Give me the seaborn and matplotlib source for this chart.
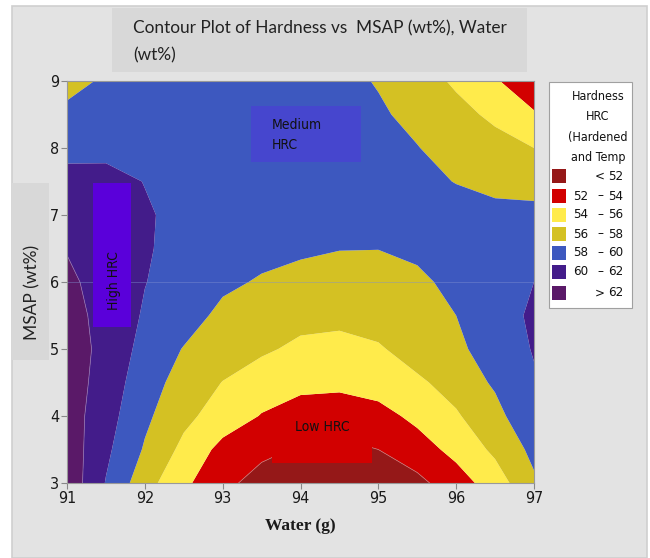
import numpy as np
import matplotlib
matplotlib.use("Agg")
import matplotlib.pyplot as plt
from matplotlib.patches import Rectangle
from matplotlib import font_manager
import seaborn as sns

# ---- data ----
water = [91.0, 91.5, 92.0, 92.5, 93.0, 93.5, 94.0, 94.5, 95.0, 95.5, 96.0, 96.5, 97.0]
msap = [3.0, 3.5, 4.0, 4.5, 5.0, 5.5, 6.0, 6.5, 7.0, 7.5, 8.0, 8.5, 9.0]

hrc_msap_30 = [63.4, 59.9, 56.8, 54.4, 52.55, 51.2, 50.5, 50.4, 50.8, 51.5, 53.07, 55.0, 57.7]
hrc_msap_35 = [63.2, 60.4, 57.8, 55.5, 53.4, 52.5, 51.8, 51.6, 52.0, 53.1, 54.6, 56.4, 58.5]
hrc_msap_40 = [63.0, 60.8, 58.4, 56.5, 55.1, 53.9, 53.0, 52.8, 53.3, 54.5, 55.8, 57.3, 59.8]
hrc_msap_45 = [63.1, 61.1, 58.9, 57.2, 55.95, 55.0, 54.6, 54.5, 54.9, 55.7, 56.7, 58.3, 59.8]
hrc_msap_50 = [63.2, 61.3, 59.4, 57.9, 57.0, 56.3, 55.6, 55.4, 55.8, 56.8, 57.6, 58.9, 60.12]
hrc_msap_55 = [62.8, 61.3, 59.8, 58.9, 57.5, 56.9, 56.6, 56.5, 56.8, 57.3, 58.0, 59.2, 60.3]
hrc_msap_60 = [62.4, 61.2, 60.05, 59.2, 58.4, 57.8, 57.4, 57.3, 57.5, 57.7, 58.4, 59.2, 60.0]
hrc_msap_65 = [61.9, 60.9, 60.15, 59.5, 59.0, 58.6, 58.3, 58.05, 58.02, 58.3, 58.8, 59.3, 59.6]
hrc_msap_70 = [61.3, 60.9, 60.2, 59.5, 59.2, 59.0, 58.9, 58.8, 58.75, 58.7, 58.6, 58.5, 58.5]
hrc_msap_75 = [60.8, 60.6, 59.95, 59.5, 59.3, 59.2, 59.1, 59.0, 58.8, 58.4, 57.95, 57.5, 57.3]
hrc_msap_80 = [59.3, 59.5, 59.5, 59.4, 59.3, 59.2, 59.0, 58.7, 58.35, 58.05, 57.4, 56.7, 56.0]
hrc_msap_85 = [58.5, 59.2, 59.4, 59.4, 59.3, 59.1, 58.8, 58.5, 58.2, 57.6, 56.6, 55.6, 54.2]
hrc_msap_90 = [57.3, 58.3, 58.8, 59.0, 59.0, 58.9, 58.6, 58.4, 57.9, 56.9, 55.7, 54.2, 52.6]

level_edges = [52, 54, 56, 58, 60, 62]
legend_low = ["", "52", "54", "56", "58", "60", ""]
legend_sign = ["<", "\u2013", "\u2013", "\u2013", "\u2013", "\u2013", ">"]
legend_high = ["52", "54", "56", "58", "60", "62", "62"]
band_colors = ["#951818", "#D20000", "#FFEB4B", "#D4C123", "#3D58BF", "#431C8A", "#5A1968"]

x_ticks = [91, 92, 93, 94, 95, 96, 97]
y_ticks = [3, 4, 5, 6, 7, 8, 9]

# ---- figure ----
sns.set_theme(style="white")
plt.rcParams["font.family"] = ["Open Sans", "DejaVu Sans"]

# narrow font: try a condensed face if one is installed
narrow_fp = None
for fam in ["Liberation Sans Narrow", "DejaVu Sans"]:
    try:
        fp = font_manager.FontProperties(family=fam, stretch="condensed")
        path = font_manager.findfont(fp, fallback_to_default=False)
        if "ondensed" in path or "arrow" in path:
            narrow_fp = path
            break
    except Exception:
        pass


def nfont(size, weight="normal"):
    if narrow_fp:
        return font_manager.FontProperties(fname=narrow_fp, size=size, weight=weight)
    return font_manager.FontProperties(family="Liberation Sans", size=size * 0.95, weight=weight)


W, H = 650, 558
fig = plt.figure(figsize=(W / 100, H / 100), dpi=100)
fig.patch.set_facecolor("white")


def fx(px):
    return px / W


def fy(py):
    return 1 - py / H


# outer gray panel
fig.add_artist(Rectangle((fx(12), fy(558)), fx(647) - fx(12), fy(6) - fy(558),
                         transform=fig.transFigure, facecolor="#E3E3E3",
                         edgecolor="#CFCFCF", lw=1.2, zorder=0))
# title box
fig.add_artist(Rectangle((fx(112), fy(72)), fx(527) - fx(112), fy(8) - fy(72),
                         transform=fig.transFigure, facecolor="#D8D8D8",
                         edgecolor="none", zorder=1))
fig.text(fx(133), fy(28), "Contour Plot of Hardness vs  MSAP (wt%), Water",
         ha="left", va="center", fontsize=12.4, color="#222222",
         family=["Lato", "DejaVu Sans"], zorder=2)
fig.text(fx(133), fy(55), "(wt%)", ha="left", va="center", fontsize=12.4,
         color="#222222", family=["Lato", "DejaVu Sans"], zorder=2)

# y label box
fig.add_artist(Rectangle((fx(12), fy(360)), fx(49) - fx(12), fy(183) - fy(360),
                         transform=fig.transFigure, facecolor="#D8D8D8",
                         edgecolor="none", zorder=1))
fig.text(fx(32), fy(292), "MSAP (wt%)", rotation=90, ha="center", va="center",
         fontsize=12.5, color="#222222", family=["Lato", "DejaVu Sans"], zorder=2)

# axes
ax = fig.add_axes([fx(67), fy(483), fx(534) - fx(67), fy(81) - fy(483)])
Z = np.array([hrc_msap_30, hrc_msap_35, hrc_msap_40, hrc_msap_45, hrc_msap_50,
              hrc_msap_55, hrc_msap_60, hrc_msap_65, hrc_msap_70, hrc_msap_75,
              hrc_msap_80, hrc_msap_85, hrc_msap_90])
levels = [min(Z.min(), level_edges[0]) - 5] + level_edges + [max(Z.max(), level_edges[-1]) + 5]
ax.contourf(water, msap, Z, levels=levels, colors=band_colors, antialiased=True)
ax.contour(water, msap, Z, levels=[52, 62], colors=["#C87878", "#9070B0"], linewidths=0.5)
ax.axhline(6, color="#8090d0", lw=0.6, alpha=0.5)

ax.set_xlim(91, 97)
ax.set_ylim(3, 9)
ax.set_xticks(x_ticks)
ax.set_yticks(y_ticks)
ax.set_xticklabels([str(t) for t in x_ticks], fontproperties=nfont(11.5), color="#1a1a1a")
ax.set_yticklabels([str(t) for t in y_ticks], fontproperties=nfont(11.5), color="#1a1a1a")
ax.tick_params(axis="both", direction="out", length=4, width=0.8, color="#888888", pad=1.5,
               bottom=True, left=True)
for s in ax.spines.values():
    s.set_color("#999999")
    s.set_linewidth(0.8)
ax.set_xlabel("Water (g)", family=["Liberation Serif", "DejaVu Serif"], fontweight="bold",
              fontsize=12.5, color="#1a1a1a", labelpad=9)
ax.set_ylabel("")

# annotation boxes
ax.add_patch(Rectangle((93.364, 7.79), 94.778 - 93.364, 8.627 - 7.79,
                       facecolor="#4646CE", edgecolor="none", zorder=5))
ax.text(93.63, 8.34, "Medium", ha="left", va="center", fontproperties=nfont(10), color="#111111", zorder=6)
ax.text(93.63, 8.04, "HRC", ha="left", va="center", fontproperties=nfont(10), color="#111111", zorder=6)

ax.add_patch(Rectangle((91.338, 5.333), 91.822 - 91.338, 7.473 - 5.333,
                       facecolor="#5A00DA", edgecolor="none", zorder=5))
ax.text(91.6, 6.02, "High HRC", rotation=90, ha="center", va="center",
        fontproperties=nfont(10), color="#111111", zorder=6)

ax.add_patch(Rectangle((93.634, 3.30), 94.919 - 93.634, 4.12 - 3.30,
                       facecolor="#D20000", edgecolor="none", zorder=5))
ax.text(94.28, 3.83, "Low HRC", ha="center", va="center", fontproperties=nfont(10),
        color="#111111", zorder=6)

# legend
fig.add_artist(Rectangle((fx(549), fy(308)), fx(632) - fx(549), fy(82) - fy(308),
                         transform=fig.transFigure, facecolor="white",
                         edgecolor="#A0A0A0", lw=0.8, zorder=1))
for i, line in enumerate(["Hardness", "HRC", "(Hardened", "and Temp"]):
    fig.text(fx(598), fy(97 + i * 20), line, ha="center", va="center",
             fontproperties=nfont(9), color="#111111", zorder=2)
row_y = [176, 196, 215, 234, 253, 272, 293]
for i in range(len(band_colors)):
    yc = row_y[i]
    fig.add_artist(Rectangle((fx(552), fy(yc + 7)), fx(566) - fx(552), fy(yc - 7) - fy(yc + 7),
                             transform=fig.transFigure, facecolor=band_colors[i],
                             edgecolor="none", zorder=2))
    if legend_low[i]:
        fig.text(fx(573), fy(yc), legend_low[i], ha="left", va="center",
                 fontproperties=nfont(9.5), color="#111111", zorder=3)
    fig.text(fx(600), fy(yc), legend_sign[i], ha="center", va="center",
             fontproperties=nfont(9.5), color="#111111", zorder=3)
    fig.text(fx(623), fy(yc), legend_high[i], ha="right", va="center",
             fontproperties=nfont(9.5), color="#111111", zorder=3)

fig.savefig("out.png", dpi=100, facecolor=fig.get_facecolor())
